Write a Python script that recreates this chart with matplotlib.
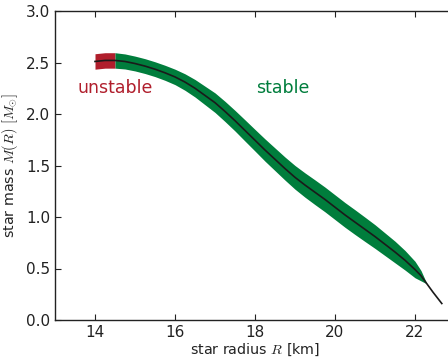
import numpy as np
import matplotlib.pyplot as plt

plt.rcParams['mathtext.fontset'] = 'cm'

# mass-radius curve
radius = [14.0, 14.25, 14.5, 14.75, 15.0, 15.25, 15.5, 15.75, 16.0, 16.25, 16.5,
          16.75, 17.0, 17.25, 17.5, 17.75, 18.0, 18.25, 18.5, 18.75, 19.0,
          19.25, 19.5, 19.75, 20.0, 20.25, 20.5, 20.75, 21.0, 21.25, 21.5,
          21.75, 22.0, 22.15, 22.3, 22.45, 22.67]
mass = [2.51, 2.52, 2.52, 2.51, 2.49, 2.465, 2.435, 2.40, 2.36, 2.31, 2.25,
        2.18, 2.11, 2.025, 1.935, 1.84, 1.745, 1.65, 1.56, 1.47, 1.385,
        1.31, 1.24, 1.17, 1.095, 1.02, 0.95, 0.88, 0.81, 0.735, 0.66,
        0.58, 0.49, 0.43, 0.35, 0.27, 0.16]
# half width of the uncertainty band (in M)
band = [0.075, 0.075, 0.075, 0.073, 0.072, 0.072, 0.072, 0.073, 0.075, 0.08, 0.085,
        0.09, 0.095, 0.098, 0.10, 0.103, 0.105, 0.108, 0.11, 0.112, 0.115,
        0.118, 0.12, 0.12, 0.12, 0.12, 0.12, 0.118, 0.115, 0.11, 0.105,
        0.095, 0.08, 0.05, 0.0, 0.0, 0.0]
r_split = 14.5   # unstable / stable boundary
r_band_end = 22.3

red = '#b01e2c'
green = '#007d3c'

R = np.array(radius)
M = np.array(mass)
dM = np.array(band)

fig = plt.figure(figsize=(4.48, 3.6), dpi=100)
ax = fig.add_axes([55 / 448, 40 / 360, 400 / 448, 309 / 360])

uns = R <= r_split
sta = (R >= r_split) & (R <= r_band_end)
ax.fill_between(R[uns], M[uns] - dM[uns], M[uns] + dM[uns], color=red, lw=0)
ax.fill_between(R[sta], M[sta] - dM[sta], M[sta] + dM[sta], color=green, lw=0)
ax.plot(R, M, color='#1a1a1a', lw=1.2)

ax.text(14.5, 2.25, 'unstable', color=red, fontsize=12.5, ha='center', va='center')
ax.text(18.69, 2.25, 'stable', color=green, fontsize=12.5, ha='center', va='center')

ax.set_xlim(13, 23)
ax.set_ylim(0, 3)
ax.set_xticks([14, 16, 18, 20, 22])
ax.set_yticks([0.0, 0.5, 1.0, 1.5, 2.0, 2.5, 3.0])
ax.set_yticklabels(['0.0', '0.5', '1.0', '1.5', '2.0', '2.5', '3.0'])
ax.tick_params(direction='in', top=True, right=False, length=4, width=0.8,
               labelsize=11, colors='#222222', labelcolor='#222222')
for s in ax.spines.values():
    s.set_color('#222222')
    s.set_linewidth(1.0)
ax.spines['right'].set_visible(False)

ax.set_xlabel('star radius $R$ [km]', fontsize=10.3, color='#222222', labelpad=1)
ax.set_ylabel(r'star mass $M(R)\ [M_{\odot}]$', fontsize=10.3, color='#222222', labelpad=4)

fig.savefig('out.png', dpi=100)
